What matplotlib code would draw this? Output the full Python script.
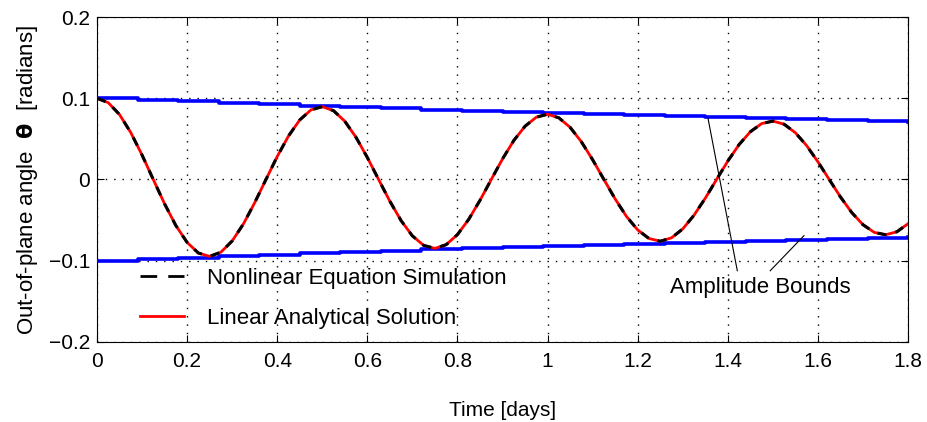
import numpy as np
import matplotlib
matplotlib.use("Agg")
import matplotlib.pyplot as plt
from matplotlib import font_manager
from matplotlib.lines import Line2D

# ---------- data ----------
time_days = [0.000, 0.025, 0.050, 0.075, 0.100, 0.125, 0.150, 0.175, 0.200, 0.225,
             0.250, 0.275, 0.300, 0.325, 0.350, 0.375, 0.400, 0.425, 0.450, 0.475,
             0.500, 0.525, 0.550, 0.575, 0.600, 0.625, 0.650, 0.675, 0.700, 0.725,
             0.750, 0.775, 0.800, 0.825, 0.850, 0.875, 0.900, 0.925, 0.950, 0.975,
             1.000, 1.025, 1.050, 1.075, 1.100, 1.125, 1.150, 1.175, 1.200, 1.225,
             1.250, 1.275, 1.300, 1.325, 1.350, 1.375, 1.400, 1.425, 1.450, 1.475,
             1.500, 1.525, 1.550, 1.575, 1.600, 1.625, 1.650, 1.675, 1.700, 1.725,
             1.750, 1.775, 1.800]

theta_rad = [0.1000, 0.0946, 0.0800, 0.0578, 0.0302, 0.0000, -0.0299, -0.0566, -0.0774, -0.0905,
             -0.0946, -0.0895, -0.0757, -0.0547, -0.0286, 0.0000, 0.0283, 0.0535, 0.0733, 0.0857,
             0.0896, 0.0847, 0.0717, 0.0518, 0.0271, 0.0000, -0.0268, -0.0507, -0.0694, -0.0811,
             -0.0848, -0.0802, -0.0678, -0.0490, -0.0256, 0.0000, 0.0253, 0.0480, 0.0656, 0.0767,
             0.0803, 0.0759, 0.0642, 0.0464, 0.0243, 0.0000, -0.0240, -0.0454, -0.0621, -0.0726,
             -0.0760, -0.0718, -0.0608, -0.0439, -0.0230, 0.0000, 0.0227, 0.0430, 0.0588, 0.0688,
             0.0719, 0.0680, 0.0575, 0.0416, 0.0217, 0.0000, -0.0215, -0.0407, -0.0557, -0.0651,
             -0.0680, -0.0644, -0.0544]

bound_days = [0.00, 0.09, 0.18, 0.27, 0.36, 0.45, 0.54, 0.63, 0.72, 0.81,
              0.90, 0.99, 1.08, 1.17, 1.26, 1.35, 1.44, 1.53, 1.62, 1.71, 1.80]
bound_amp = [0.1000, 0.0980, 0.0961, 0.0942, 0.0924, 0.0907, 0.0890, 0.0874, 0.0859, 0.0844,
             0.0830, 0.0816, 0.0803, 0.0790, 0.0778, 0.0766, 0.0754, 0.0743, 0.0732, 0.0722,
             0.0712]

x_ticks = [0, 0.2, 0.4, 0.6, 0.8, 1, 1.2, 1.4, 1.6, 1.8]
x_ticklabels = ["0", "0.2", "0.4", "0.6", "0.8", "1", "1.2", "1.4", "1.6", "1.8"]
y_ticks = [-0.2, -0.1, 0, 0.1, 0.2]
y_ticklabels = ["\u22120.2", "\u22120.1", "0", "0.1", "0.2"]

# ---------- fonts ----------
names = {f.name for f in font_manager.fontManager.ttflist}
main_font = "Liberation Sans" if "Liberation Sans" in names else "DejaVu Sans"
plt.rcParams["font.family"] = [main_font, "DejaVu Sans"]
plt.rcParams["mathtext.fontset"] = "dejavusans"

fig = plt.figure(figsize=(9.27, 4.22), dpi=100)
ax = fig.add_axes([0.1046, 0.1896, 0.875, 0.7701])

bound_up = np.array(bound_amp)
ax.plot(bound_days, bound_up, color="#0000ff", lw=2.6, drawstyle="steps-post", zorder=3)
ax.plot(bound_days, -bound_up, color="#0000ff", lw=2.6, drawstyle="steps-post", zorder=3)

ax.plot(time_days, theta_rad, color="#ff0000", lw=2.0, zorder=4)
ax.plot(time_days, theta_rad, color="black", lw=2.2, dashes=(3, 3), zorder=5)

ax.set_xlim(0, 1.8)
ax.set_ylim(-0.2, 0.2)
ax.set_xticks(x_ticks)
ax.set_xticklabels(x_ticklabels, fontsize=15)
ax.set_yticks(y_ticks)
ax.set_yticklabels(y_ticklabels, fontsize=15)
ax.tick_params(axis="both", direction="in", length=5, width=0.8, top=True, right=True)
ax.tick_params(axis="x", pad=7)
ax.tick_params(axis="y", pad=5)
ax.grid(True, color="black", linestyle=(0, (1, 5)), lw=1.0)
for s in ax.spines.values():
    s.set_linewidth(0.8)

ax.set_xlabel("Time [days]", fontsize=15, labelpad=22)
ax.set_ylabel(r"Out-of-plane angle  $\mathbf{\theta}$  [radians]", fontsize=16, labelpad=6)

# legend with its own dash pattern, like the reference
proxies = [Line2D([], [], color="black", lw=2.0, dashes=(6, 4)),
           Line2D([], [], color="#ff0000", lw=2.0)]
ax.legend(proxies, ["Nonlinear Equation Simulation", "Linear Analytical Solution"],
          loc="upper left", bbox_to_anchor=(0.053, 0.228),
          frameon=False, fontsize=16, borderpad=0, borderaxespad=0,
          handlelength=2.0, handletextpad=1.0, labelspacing=0.85)

# amplitude bounds annotation
ax.text(1.472, -0.133, "Amplitude Bounds", fontsize=16, ha="center", va="center")
ax.plot([1.356, 1.421], [0.0753, -0.1123], color="black", lw=0.8, zorder=6)
ax.plot([1.494, 1.569], [-0.1123, -0.0691], color="black", lw=0.8, zorder=6)

fig.savefig("out.png", dpi=100)
